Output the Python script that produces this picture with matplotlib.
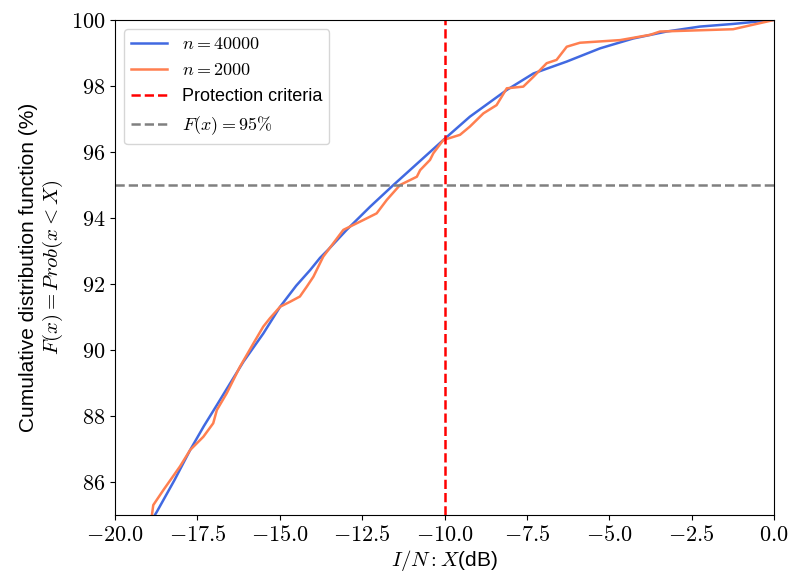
import matplotlib
matplotlib.use('Agg')
import matplotlib.pyplot as plt
from matplotlib.ticker import FuncFormatter

plt.rcParams['mathtext.fontset'] = 'cm'
plt.rcParams['font.family'] = ['Liberation Sans', 'DejaVu Sans']

# n = 40000
x_big = [-18.79, -18.73, -18.2, -17.72, -17.3, -16.91, -16.5, -16.1, -15.5, -14.99,
         -14.5, -14.08, -13.78, -13.54, -12.97, -12.26, -11.55, -10.64, -10.04,
         -9.23, -8.11, -7.3, -6.29, -5.28, -4.27, -3.26, -2.25, -1.24, 0.0]
y_big = [85.0, 85.1, 86.05, 86.97, 87.7, 88.33, 89.0, 89.65, 90.5, 91.31,
         91.95, 92.42, 92.79, 93.03, 93.64, 94.34, 95.0, 95.82, 96.36,
         97.07, 97.88, 98.38, 98.74, 99.14, 99.44, 99.65, 99.8, 99.88, 100.0]

# n = 2000
x_small = [-18.88, -18.84, -18.53, -18.03, -17.72, -17.32, -17.02, -16.91, -16.61,
           -16.21, -15.8, -15.5, -15.3, -14.99, -14.69, -14.39, -14.18, -13.98,
           -13.68, -13.07, -12.46, -12.06, -11.75, -11.35, -10.84, -10.74, -10.44,
           -10.34, -10.04, -9.53, -9.23, -8.82, -8.42, -8.11, -7.61, -7.3, -6.9,
           -6.6, -6.29, -5.89, -4.67, -3.76, -3.46, -1.24, 0.0]
y_small = [85.0, 85.3, 85.76, 86.47, 86.97, 87.37, 87.78, 88.18, 88.69,
           89.49, 90.2, 90.71, 90.96, 91.31, 91.46, 91.62, 91.92, 92.22,
           92.83, 93.64, 93.94, 94.14, 94.55, 95.0, 95.25, 95.45, 95.76,
           95.96, 96.36, 96.52, 96.77, 97.17, 97.42, 97.93, 97.98, 98.28, 98.69,
           98.79, 99.19, 99.31, 99.39, 99.55, 99.65, 99.72, 100.0]

protection = -10
target = 95

fig = plt.figure(figsize=(7.89, 5.74), dpi=100)
ax = fig.add_axes([0.1458, 0.1028, 0.8352, 0.8624])

ax.plot(x_big, y_big, color='royalblue', lw=1.8, label='$n = 40000$')
ax.plot(x_small, y_small, color='coral', lw=1.8, label='$n = 2000$')
ax.axvline(protection, color='red', ls='--', lw=1.8, label='Protection criteria')
ax.axhline(target, color='gray', ls='--', lw=1.8, label=r'$F(x) = 95\%$')

ax.set_xlim(-20, 0)
ax.set_ylim(85, 100)
ax.set_xticks([-20, -17.5, -15, -12.5, -10, -7.5, -5, -2.5, 0])
ax.set_yticks(range(86, 101, 2))
ax.xaxis.set_major_formatter(FuncFormatter(lambda v, p: '$%.1f$' % v))
ax.yaxis.set_major_formatter(FuncFormatter(lambda v, p: '$%d$' % v))
ax.tick_params(labelsize=16)

ax.set_xlabel('$I/N: X$(dB)', fontsize=15, labelpad=2)
ax.set_ylabel('Cumulative distribution function (%)\n$F(x) = Prob(x < X)$', fontsize=15)
ax.legend(loc='upper left', fontsize=13)

fig.savefig('out.png', dpi=100)
